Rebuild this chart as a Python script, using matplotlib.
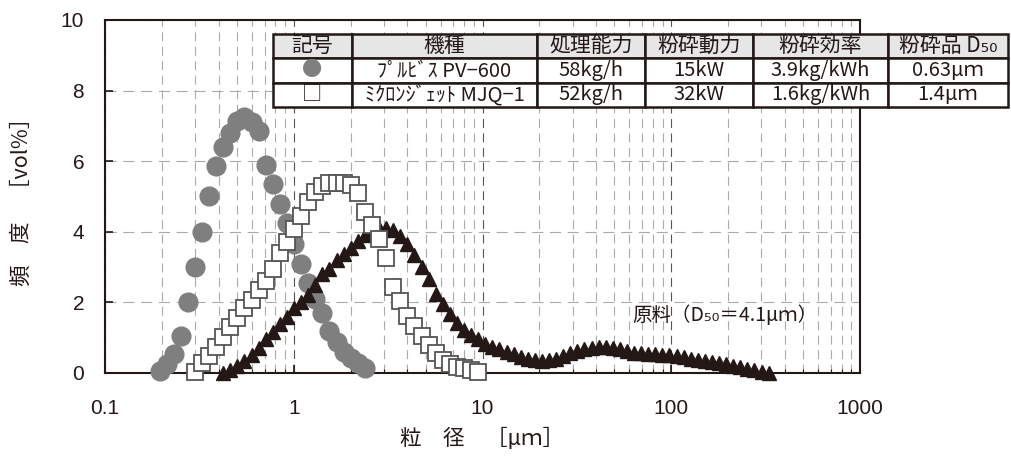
import numpy as np
import matplotlib.pyplot as plt
from matplotlib.ticker import LogLocator, NullFormatter

plt.rcParams['font.family'] = ['Liberation Sans', 'Noto Sans CJK JP', 'DejaVu Sans']
jp = ['Noto Sans CJK JP', 'DejaVu Sans']

# particle size channels [um]
sizes = [0.1945, 0.2121, 0.2312, 0.2520, 0.2747, 0.2995, 0.3265, 0.3560, 0.3881, 0.4231,
         0.4613, 0.5029, 0.5483, 0.5977, 0.6516, 0.7104, 0.7745, 0.8444, 0.9205, 1.004,
         1.094, 1.193, 1.301, 1.418, 1.546, 1.686, 1.838, 2.004, 2.185, 2.382,
         2.597, 2.831, 3.087, 3.365, 3.669, 4.000, 4.361, 4.755, 5.184, 5.652,
         6.162, 6.718, 7.324, 7.985, 8.706, 9.491, 10.35, 11.28, 12.30, 13.41,
         14.62, 15.94, 17.38, 18.95, 20.66, 22.52, 24.55, 26.77, 29.18, 31.82,
         34.69, 37.82, 41.23, 44.95, 49.01, 53.43, 58.25, 63.51, 69.24, 75.49,
         82.30, 89.73, 97.83, 106.7, 116.3, 126.8, 138.2, 150.7, 164.3, 179.1,
         195.3, 212.9, 232.1, 253.1, 275.9, 300.8, 328.0]

# プルビス PV-600 (circles), 0.1945 - 2.382 um
pv600 = [0.05, 0.25, 0.55, 1.05, 2.0, 3.0, 4.0, 5.0, 5.85, 6.4,
         6.8, 7.15, 7.25, 7.1, 6.85, 5.9, 5.35, 4.8, 4.25, 3.65,
         3.1, 2.55, 2.1, 1.7, 1.2, 0.88, 0.6, 0.42, 0.28, 0.14]

# ミクロンジェット MJQ-1 (squares), 0.2995 - 9.491 um
mjq1 = [0.04, 0.28, 0.48, 0.74, 1.02, 1.30, 1.56, 1.84, 2.07, 2.35,
        2.62, 2.95, 3.40, 3.72, 4.08, 4.45, 4.85, 5.13, 5.30, 5.37,
        5.38, 5.37, 5.33, 5.10, 4.55, 4.19, 3.80, 3.26, 2.44, 2.05,
        1.62, 1.33, 1.05, 0.78, 0.57, 0.38, 0.25, 0.18, 0.13, 0.08,
        0.04]

# 原料 (triangles), 0.4231 - 328 um
raw = [0.0, 0.08, 0.2, 0.35, 0.52, 0.72, 0.95, 1.15, 1.4, 1.6,
       1.85, 2.0, 2.2, 2.5, 2.8, 2.95, 3.2, 3.38, 3.55, 3.75,
       3.9, 4.0, 4.1, 4.12, 4.05, 3.87, 3.65, 3.35, 3.0, 2.65,
       2.25, 1.95, 1.68, 1.42, 1.22, 1.08, 0.95, 0.82, 0.74, 0.67,
       0.6, 0.53, 0.46, 0.41, 0.37, 0.35, 0.36, 0.4, 0.48, 0.56,
       0.63, 0.68, 0.72, 0.74, 0.74, 0.72, 0.67, 0.62, 0.58, 0.56,
       0.54, 0.53, 0.52, 0.5, 0.47, 0.44, 0.41, 0.38, 0.35, 0.32,
       0.28, 0.25, 0.21, 0.17, 0.12, 0.08, 0.04, 0.0]

x_pv = sizes[0:len(pv600)]
x_mjq = sizes[5:5 + len(mjq1)]
x_raw = sizes[9:9 + len(raw)]

col_labels = ['記号', '機種', '処理能力', '粉砕動力', '粉砕効率', '粉砕品 D₅₀']
rows = [['●', 'ﾌﾟﾙﾋﾞｽ PV−600', '58kg/h', '15kW', '3.9kg/kWh', '0.63μｍ'],
        ['□', 'ﾐｸﾛﾝｼﾞｪｯﾄ MJQ−1', '52kg/h', '32kW', '1.6kg/kWh', '1.4μｍ']]
col_w = [79, 185, 108, 108, 135, 120]

ink = '#231815'
fig = plt.figure(figsize=(10.11, 4.63), dpi=100)
ax = fig.add_axes([105 / 1011, 1 - 373 / 463, 755 / 1011, 353 / 463])

ax.plot(x_pv, pv600, 'o', ms=13.5, color='#7f7f7f', mec='#7f7f7f', zorder=3, clip_on=False)
ax.plot(x_raw, raw, '^', ms=10, color=ink, mec=ink, zorder=4, clip_on=False)
ax.plot(x_mjq, mjq1, 's', ms=11.5, mfc='white', mec='#555555', mew=1.3, zorder=5, clip_on=False)

ax.set_xscale('log')
ax.set_xlim(0.1, 1000)
ax.set_ylim(0, 10)
ax.set_xticks([0.1, 1, 10, 100, 1000])
ax.set_xticklabels(['0.1', '1', '10', '100', '1000'])
ax.xaxis.set_minor_locator(LogLocator(base=10, subs=np.arange(2, 10), numticks=20))
ax.xaxis.set_minor_formatter(NullFormatter())
ax.set_yticks(range(0, 11, 2))

ax.grid(which='major', axis='x', ls=(0, (8, 5)), color='#555555', lw=0.8)
ax.grid(which='minor', axis='x', ls=(0, (8, 5)), color='#aaaaaa', lw=0.8)
ax.grid(which='major', axis='y', ls=(0, (10, 6)), color='#aaaaaa', lw=0.8)
ax.set_axisbelow(True)

for s in ax.spines.values():
    s.set_linewidth(1.5)
    s.set_color(ink)
ax.tick_params(which='major', direction='in', length=6, width=1.2, color=ink, labelsize=15, labelcolor=ink)
ax.tick_params(axis='x', which='major', pad=19)
ax.tick_params(axis='y', which='major', pad=15)
ax.tick_params(which='minor', direction='in', length=3, width=0.8, color=ink)

ax.set_ylabel('頻　度　［vol%］', fontsize=15.5, color=ink, family=jp)
ax.yaxis.set_label_coords(-0.095, 0.5)
ax.set_xlabel('粒　径　［μｍ］', fontsize=15.5, color=ink, family=jp)
ax.xaxis.set_label_coords(0.5, -0.155)

ax.text(62, 1.64, '原料（D₅₀＝4.1μｍ）', fontsize=14, va='center', color=ink, family=jp)

# spec table
tax = fig.add_axes([273 / 1011, 1 - 107 / 463, 735 / 1011, 73 / 463])
tax.axis('off')
tbl = tax.table(cellText=rows, colLabels=col_labels, cellLoc='center',
                colWidths=[w / sum(col_w) for w in col_w], bbox=[0, 0, 1, 1])
tbl.auto_set_font_size(False)
for (r, c), cell in tbl.get_celld().items():
    cell.set_linewidth(1.8)
    cell.set_edgecolor(ink)
    cell.set_facecolor('#e6e6e6' if r == 0 else 'white')
    t = cell.get_text()
    t.set_fontfamily(jp)
    t.set_fontsize(15 if r == 0 else 14.5)
    t.set_color(ink)
    if r > 0 and c == 1:
        cell._loc = 'left'
        cell.PAD = 0.04
    if r == 1 and c == 0:
        t.set_color('#7f7f7f')

fig.savefig('out.png', dpi=100)
